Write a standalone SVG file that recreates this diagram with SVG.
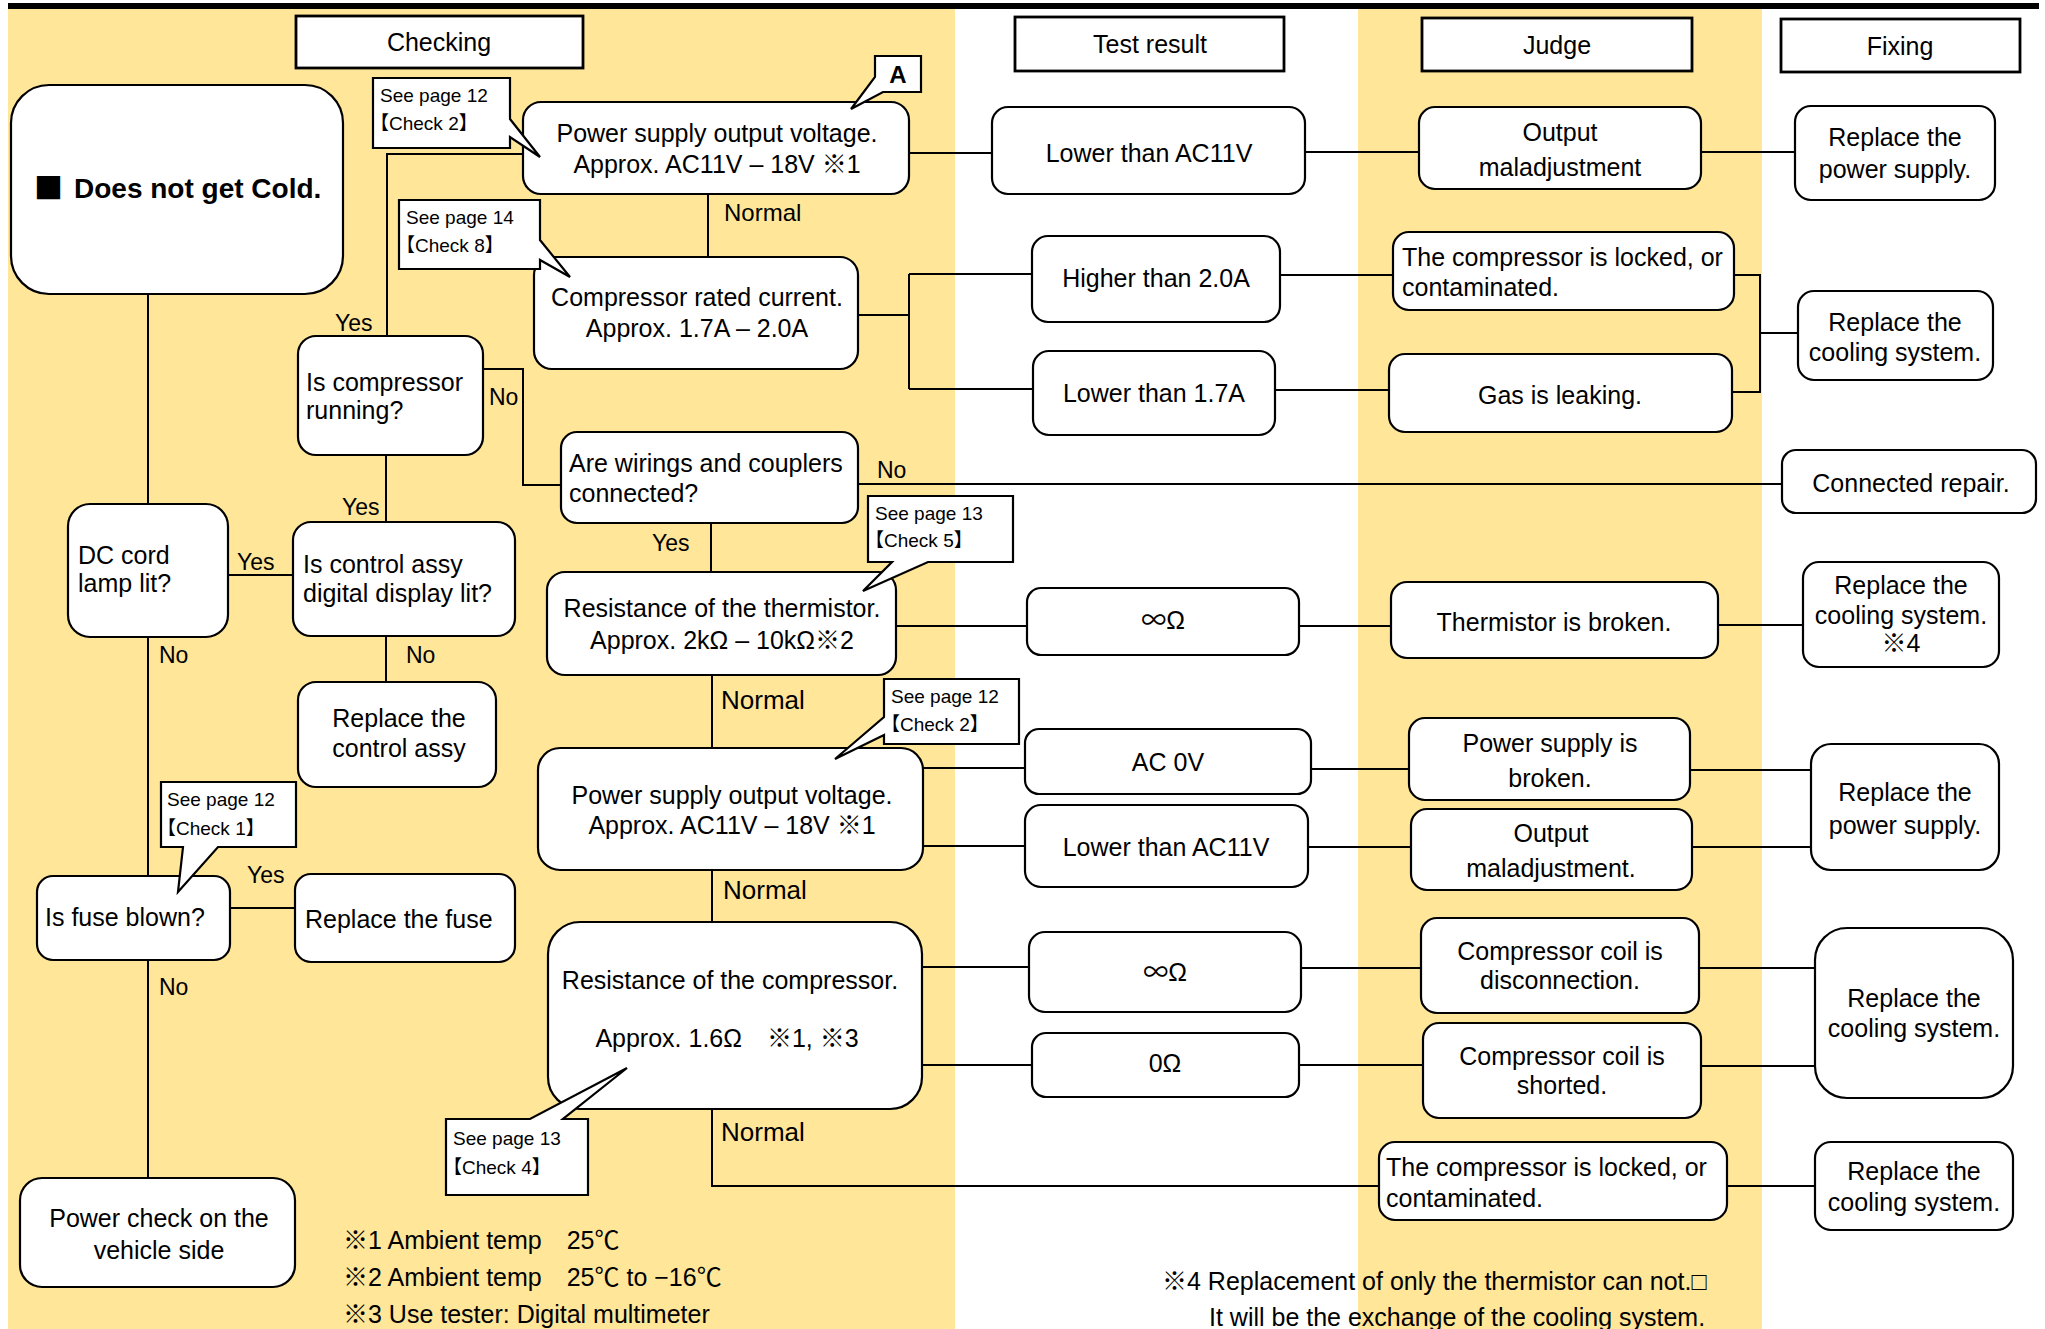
<svg xmlns="http://www.w3.org/2000/svg" width="2045" height="1329" viewBox="0 0 2045 1329">
<style>
text{font-family:"Liberation Sans","Noto Sans CJK JP",sans-serif;fill:#000;font-size:25px}
.cjk{font-family:"Noto Sans CJK JP",sans-serif}
.c{text-anchor:middle}
.s{font-size:19px}
.lb{font-size:23px}
.nm{font-size:26px}
.b{fill:#fff;stroke:#000;stroke-width:2.2}
.h{fill:#fff;stroke:#000;stroke-width:2.8}
.ln{fill:none;stroke:#000;stroke-width:2}
</style>
<rect x="0" y="0" width="2045" height="1329" fill="#fff"/>
<rect x="8" y="9" width="947" height="1320" fill="#FFE699"/>
<rect x="1358" y="9" width="404" height="1320" fill="#FFE699"/>
<rect x="8" y="3" width="2031" height="6" fill="#000"/>

<g id="connectors">
<path class="ln" d="M148,294 V504 M148,637 V876 M148,960 V1178"/>
<path class="ln" d="M228,575 H293 M386,522 V455 M386,636 V682"/>
<path class="ln" d="M387,336 V154 H523"/>
<path class="ln" d="M483,369 H523 V485 H561"/>
<path class="ln" d="M708,194 V257 M909,153 H992"/>
<path class="ln" d="M858,315 H909 M909,274 V389 M909,274 H1032 M909,389 H1033"/>
<path class="ln" d="M1280,275 H1393 M1275,390 H1389 M1305,152 H1419 M1701,152 H1795"/>
<path class="ln" d="M1734,275 H1760 V392 H1732 M1760,333 H1798"/>
<path class="ln" d="M858,484 H1782 M711,523 V572"/>
<path class="ln" d="M896,626 H1027 M1299,626 H1391 M1718,625 H1803"/>
<path class="ln" d="M712,675 V748 M923,768 H1025 M923,846 H1025"/>
<path class="ln" d="M1311,769 H1409 M1308,847 H1411 M1690,770 H1811 M1692,847 H1811"/>
<path class="ln" d="M712,870 V922 M230,908 H295"/>
<path class="ln" d="M922,967 H1029 M922,1065 H1032 M1301,968 H1421 M1299,1065 H1423 M1699,968 H1815 M1701,1066 H1815"/>
<path class="ln" d="M712,1109 V1186 H1379 M1727,1186 H1815"/>
</g>

<g id="labels">
<text x="724" y="221" style="font-size:24px">Normal</text>
<text x="335" y="331" class="lb">Yes</text>
<text x="489" y="405" class="lb">No</text>
<text x="877" y="478" class="lb">No</text>
<text x="342" y="515" class="lb">Yes</text>
<text x="652" y="551" class="lb">Yes</text>
<text x="237" y="570" class="lb">Yes</text>
<text x="159" y="663" class="lb">No</text>
<text x="406" y="663" class="lb">No</text>
<text x="721" y="709" class="nm">Normal</text>
<text x="723" y="899" class="nm">Normal</text>
<text x="247" y="883" class="lb">Yes</text>
<text x="159" y="995" class="lb">No</text>
<text x="721" y="1141" class="nm">Normal</text>
</g>

<g id="header-checking"><rect class="h" x="296" y="16" width="287" height="52"/><text x="439" y="51" class="c">Checking</text></g>
<g id="header-test"><rect class="h" x="1015" y="17" width="269" height="54"/><text x="1150" y="53" class="c">Test result</text></g>
<g id="header-judge"><rect class="h" x="1422" y="18" width="270" height="53"/><text x="1557" y="54" class="c">Judge</text></g>
<g id="header-fixing"><rect class="h" x="1781" y="19" width="239" height="53"/><text x="1900" y="55" class="c">Fixing</text></g>

<g id="n-title"><rect class="b" x="11" y="85" width="332" height="209" rx="38"/><text x="34" y="199" class="cjk" style="font-size:29px">■</text><text x="74" y="198" style="font-size:28px;font-weight:bold">Does not get Cold.</text></g>

<g id="n-ps1"><rect class="b" x="523" y="102" width="386" height="92" rx="18"/><text x="717" y="142" class="c">Power supply output voltage.</text><text x="717" y="173" class="c">Approx. AC11V – 18V ※1</text></g>
<g id="n-comp-current"><rect class="b" x="534" y="257" width="324" height="112" rx="18"/><text x="697" y="306" class="c">Compressor rated current.</text><text x="697" y="337" class="c">Approx. 1.7A – 2.0A</text></g>
<g id="n-comp-running"><rect class="b" x="298" y="336" width="185" height="119" rx="18"/><text x="306" y="391">Is compressor</text><text x="306" y="419">running?</text></g>
<g id="n-wirings"><rect class="b" x="561" y="432" width="297" height="91" rx="16"/><text x="569" y="472">Are wirings and couplers</text><text x="569" y="502">connected?</text></g>
<g id="n-dccord"><rect class="b" x="68" y="504" width="160" height="133" rx="22"/><text x="78" y="564">DC cord</text><text x="78" y="592">lamp lit?</text></g>
<g id="n-control"><rect class="b" x="293" y="522" width="222" height="114" rx="18"/><text x="303" y="573">Is control assy</text><text x="303" y="602">digital display lit?</text></g>
<g id="n-replace-control"><rect class="b" x="298" y="682" width="198" height="105" rx="18"/><text x="399" y="727" class="c">Replace the</text><text x="399" y="757" class="c">control assy</text></g>
<g id="n-thermistor"><rect class="b" x="547" y="572" width="349" height="103" rx="18"/><text x="722" y="617" class="c">Resistance of the thermistor.</text><text x="722" y="649" class="c">Approx. 2kΩ – 10kΩ※2</text></g>
<g id="n-ps2"><rect class="b" x="538" y="748" width="385" height="122" rx="22"/><text x="732" y="804" class="c">Power supply output voltage.</text><text x="732" y="834" class="c">Approx. AC11V – 18V ※1</text></g>
<g id="n-fuse"><rect class="b" x="37" y="876" width="193" height="84" rx="16"/><text x="45" y="926">Is fuse blown?</text></g>
<g id="n-replace-fuse"><rect class="b" x="295" y="874" width="220" height="88" rx="16"/><text x="305" y="928">Replace the fuse</text></g>
<g id="n-comp-res"><rect class="b" x="548" y="922" width="374" height="187" rx="32"/><text x="730" y="989" class="c">Resistance of the compressor.</text><text x="727" y="1047" class="c">Approx. 1.6Ω　※1, ※3</text></g>
<g id="n-power-check"><rect class="b" x="20" y="1178" width="275" height="109" rx="22"/><text x="159" y="1227" class="c">Power check on the</text><text x="159" y="1259" class="c">vehicle side</text></g>

<g id="callout-a"><path class="b" d="M875,56 H921 V92 H883 L851,109 L875,77 Z"/><text x="898" y="83" class="c" style="font-size:24px;font-weight:bold">A</text></g>
<g id="callout-check2a"><path class="b" d="M373,78 H510 V119 L540,157 L510,137 V148 H373 Z"/><text x="380" y="102" class="s">See page 12</text><text x="370" y="130" class="s">【Check 2】</text></g>
<g id="callout-check8"><path class="b" d="M399,200 H540 V240 L570,277 L540,260 V269 H399 Z"/><text x="406" y="224" class="s">See page 14</text><text x="396" y="252" class="s">【Check 8】</text></g>
<g id="callout-check5"><path class="b" d="M868,496 H1013 V562 H928 L863,591 L892,562 H868 Z"/><text x="875" y="520" class="s">See page 13</text><text x="865" y="547" class="s">【Check 5】</text></g>
<g id="callout-check2b"><path class="b" d="M884,679 H1019 V744 H884 V735 L835,759 L884,717 Z"/><text x="891" y="703" class="s">See page 12</text><text x="881" y="731" class="s">【Check 2】</text></g>
<g id="callout-check1"><path class="b" d="M161,782 H296 V847 H218 L178,892 L183,847 H161 Z"/><text x="167" y="806" class="s">See page 12</text><text x="157" y="835" class="s">【Check 1】</text></g>
<g id="callout-check4"><path class="b" d="M446,1119 H530 L627,1068 L563,1119 H588 V1195 H446 Z"/><text x="453" y="1145" class="s">See page 13</text><text x="443" y="1174" class="s">【Check 4】</text></g>

<g id="n-lower-ac11v"><rect class="b" x="992" y="107" width="313" height="87" rx="16"/><text x="1149" y="162" class="c">Lower than AC11V</text></g>
<g id="n-higher-2a"><rect class="b" x="1032" y="236" width="248" height="86" rx="16"/><text x="1156" y="287" class="c">Higher than 2.0A</text></g>
<g id="n-lower-17a"><rect class="b" x="1033" y="351" width="242" height="84" rx="16"/><text x="1154" y="402" class="c">Lower than 1.7A</text></g>
<g id="n-inf1"><rect class="b" x="1027" y="588" width="272" height="67" rx="14"/><text x="1163" y="629" class="c"><tspan class="cjk">∞</tspan>Ω</text></g>
<g id="n-ac0v"><rect class="b" x="1025" y="729" width="286" height="65" rx="14"/><text x="1168" y="771" class="c">AC 0V</text></g>
<g id="n-lower-ac11v-2"><rect class="b" x="1025" y="805" width="283" height="82" rx="16"/><text x="1166" y="856" class="c">Lower than AC11V</text></g>
<g id="n-inf2"><rect class="b" x="1029" y="932" width="272" height="80" rx="16"/><text x="1165" y="981" class="c"><tspan class="cjk">∞</tspan>Ω</text></g>
<g id="n-zero"><rect class="b" x="1032" y="1033" width="267" height="64" rx="14"/><text x="1165" y="1072" class="c">0Ω</text></g>

<g id="n-output1"><rect class="b" x="1419" y="107" width="282" height="82" rx="16"/><text x="1560" y="141" class="c">Output</text><text x="1560" y="176" class="c">maladjustment</text></g>
<g id="n-locked1"><rect class="b" x="1393" y="232" width="341" height="78" rx="16"/><text x="1402" y="266">The compressor is locked, or</text><text x="1402" y="296">contaminated.</text></g>
<g id="n-gas"><rect class="b" x="1389" y="354" width="343" height="78" rx="16"/><text x="1560" y="404" class="c">Gas is leaking.</text></g>
<g id="n-therm-broken"><rect class="b" x="1391" y="582" width="327" height="76" rx="16"/><text x="1554" y="631" class="c">Thermistor is broken.</text></g>
<g id="n-ps-broken"><rect class="b" x="1409" y="718" width="281" height="82" rx="16"/><text x="1550" y="752" class="c">Power supply is</text><text x="1550" y="787" class="c">broken.</text></g>
<g id="n-output2"><rect class="b" x="1411" y="809" width="281" height="81" rx="16"/><text x="1551" y="842" class="c">Output</text><text x="1551" y="877" class="c">maladjustment.</text></g>
<g id="n-coil-disc"><rect class="b" x="1421" y="918" width="278" height="95" rx="16"/><text x="1560" y="960" class="c">Compressor coil is</text><text x="1560" y="989" class="c">disconnection.</text></g>
<g id="n-coil-short"><rect class="b" x="1423" y="1023" width="278" height="95" rx="16"/><text x="1562" y="1065" class="c">Compressor coil is</text><text x="1562" y="1094" class="c">shorted.</text></g>
<g id="n-locked2"><rect class="b" x="1379" y="1142" width="348" height="78" rx="16"/><text x="1386" y="1176">The compressor is locked, or</text><text x="1386" y="1207">contaminated.</text></g>

<g id="n-rep-ps1"><rect class="b" x="1795" y="106" width="200" height="94" rx="16"/><text x="1895" y="146" class="c">Replace the</text><text x="1895" y="178" class="c">power supply.</text></g>
<g id="n-rep-cool1"><rect class="b" x="1798" y="291" width="195" height="89" rx="16"/><text x="1895" y="331" class="c">Replace the</text><text x="1895" y="361" class="c">cooling system.</text></g>
<g id="n-connected"><rect class="b" x="1782" y="450" width="254" height="63" rx="14"/><text x="1911" y="492" class="c">Connected repair.</text></g>
<g id="n-rep-cool2"><rect class="b" x="1803" y="562" width="196" height="105" rx="16"/><text x="1901" y="594" class="c">Replace the</text><text x="1901" y="624" class="c">cooling system.</text><text x="1901" y="652" class="c">※4</text></g>
<g id="n-rep-ps2"><rect class="b" x="1811" y="744" width="188" height="126" rx="20"/><text x="1905" y="801" class="c">Replace the</text><text x="1905" y="834" class="c">power supply.</text></g>
<g id="n-rep-cool3"><rect class="b" x="1815" y="928" width="198" height="170" rx="32"/><text x="1914" y="1007" class="c">Replace the</text><text x="1914" y="1037" class="c">cooling system.</text></g>
<g id="n-rep-cool4"><rect class="b" x="1815" y="1142" width="198" height="88" rx="16"/><text x="1914" y="1180" class="c">Replace the</text><text x="1914" y="1211" class="c">cooling system.</text></g>

<g id="notes">
<text x="343" y="1249">※1 Ambient temp　25℃</text>
<text x="343" y="1286">※2 Ambient temp　25℃ to −16℃</text>
<text x="343" y="1323">※3 Use tester: Digital multimeter</text>
<text x="1162" y="1290">※4 Replacement of only the thermistor can not.□</text>
<text x="1209" y="1326">It will be the exchange of the cooling system.</text>
</g>
</svg>
